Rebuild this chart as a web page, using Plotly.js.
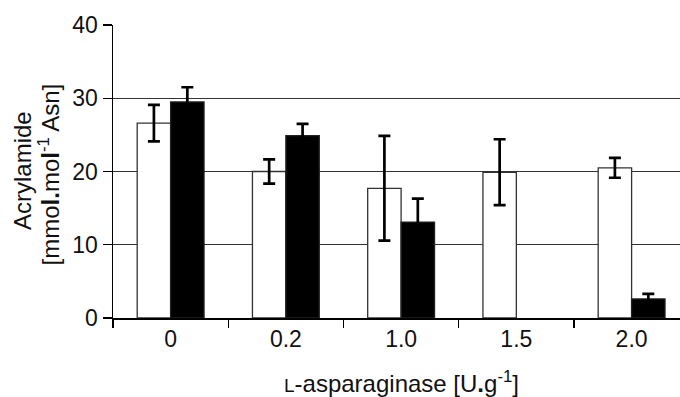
<!DOCTYPE html>
<html>
<head>
<meta charset="utf-8">
<script src="https://cdn.plot.ly/plotly-3.0.1.min.js"></script>
<style>html,body{margin:0;padding:0;background:#fff;}</style>
</head>
<body>
<div id="chart" style="width:680px;height:397px;"></div>
<script>
const categories = ['0', '0.2', '1.0', '1.5', '2.0'];
const whiteValues = [26.6, 20.0, 17.7, 19.9, 20.5];
const whiteErrors = [2.5, 1.65, 7.15, 4.5, 1.35];
const blackValues = [29.5, 24.9, 13.1, null, 2.6];
const blackErrors = [2.0, 1.6, 3.2, null, 0.7];
const yTicks = [0, 10, 20, 30, 40];
const yTitleLine1 = 'Acrylamide';
const yTitleLine2 = '[mmo<b>l.</b>mo<b>l</b><sup>-1</sup> Asn]';
const xTitle = '<span style="font-size:19px">L</span>-asparaginase [U<b>.</b>g<sup>-1</sup>]';

const font = {family: '"Liberation Sans", Arial, sans-serif', color: '#111'};

const traces = [
  {
    type: 'bar', x: categories, y: whiteValues, name: 'white',
    marker: {color: '#ffffff', line: {color: '#333', width: 1.3}},
    error_y: {type: 'data', array: whiteErrors, visible: true, color: '#000', thickness: 2.7, width: 6}
  },
  {
    type: 'bar', x: categories, y: blackValues, name: 'black',
    marker: {color: '#000000', line: {color: '#222', width: 1.3}},
    error_y: {type: 'data', array: blackErrors, visible: true, color: '#000', thickness: 2.7, width: 6}
  }
];

const layout = {
  width: 680, height: 397,
  margin: {l: 113, r: 0, t: 25, b: 79},
  paper_bgcolor: '#fff', plot_bgcolor: '#fff',
  showlegend: false,
  barmode: 'group', bargap: 0.42, bargroupgap: 0,
  font: font,
  xaxis: {
    type: 'category', categoryorder: 'array', categoryarray: categories,
    range: [-0.5, 4.42], autorange: false,
    showline: true, linecolor: '#000', linewidth: 1.5,
    ticks: 'outside', tickson: 'boundaries', ticklen: 8, tickwidth: 1.3, tickcolor: '#000',
    showgrid: false, zeroline: false,
    tickfont: {size: 23, family: font.family, color: '#111'}
  },
  yaxis: {
    range: [0, 40], autorange: false,
    tickvals: yTicks, ticktext: yTicks.map(String),
    showline: true, linecolor: '#000', linewidth: 1.5,
    ticks: 'outside', ticklen: 9, tickwidth: 1.3, tickcolor: '#000',
    showgrid: true, gridcolor: '#333', gridwidth: 1.2,
    zeroline: false,
    tickfont: {size: 23, family: font.family, color: '#111'}
  },
  annotations: [
    {text: yTitleLine1, xref: 'paper', yref: 'paper', x: -0.1605, y: 0.505, xanchor: 'center', yanchor: 'middle',
     textangle: -90, showarrow: false, font: {size: 24, family: font.family, color: '#111'}},
    {text: yTitleLine2, xref: 'paper', yref: 'paper', x: -0.1129, y: 0.49, xanchor: 'center', yanchor: 'middle',
     textangle: -90, showarrow: false, font: {size: 24, family: font.family, color: '#111'}},
    {text: xTitle, xref: 'paper', yref: 'paper', x: 0.508, y: -0.22, xanchor: 'center', yanchor: 'middle',
     showarrow: false, font: {size: 24, family: font.family, color: '#111'}}
  ]
};

Plotly.newPlot('chart', traces, layout, {displayModeBar: false, staticPlot: true});
</script>
</body>
</html>
